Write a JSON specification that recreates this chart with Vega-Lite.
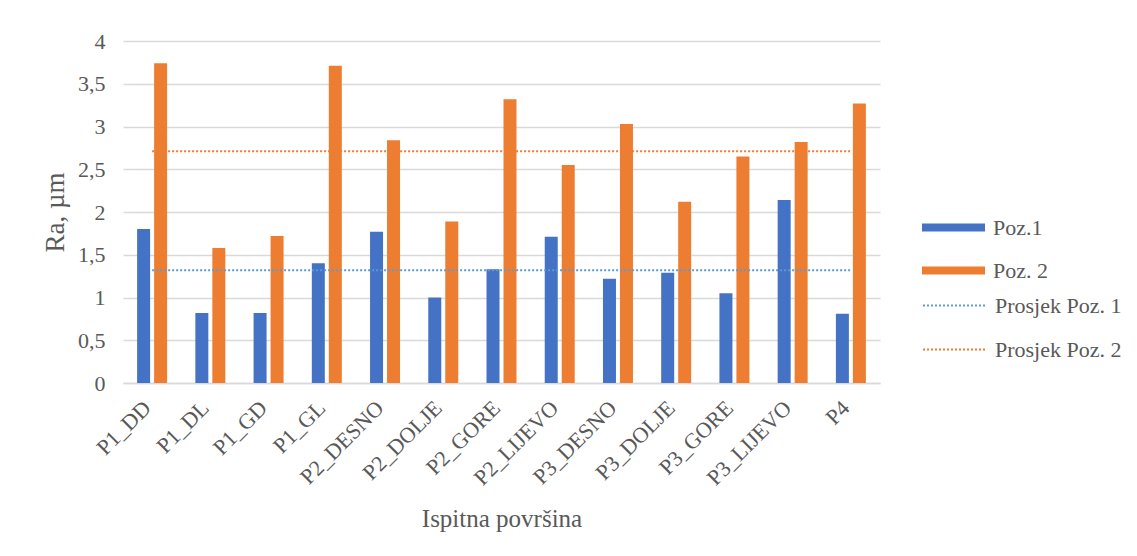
{
  "$schema": "https://vega.github.io/schema/vega-lite/v6.json",
  "width": 757,
  "height": 342,
  "autosize": {"type": "none"},
  "padding": {"left": 123, "top": 41, "right": 257, "bottom": 173},
  "background": "white",
  "config": {
    "view": {"stroke": null},
    "font": "Liberation Serif",
    "axis": {
      "labelFont": "Liberation Serif",
      "titleFont": "Liberation Serif",
      "labelColor": "#595959",
      "titleColor": "#595959",
      "labelFontSize": 22,
      "titleFontSize": 25,
      "titleFontWeight": "normal"
    },
    "legend": {
      "labelFont": "Liberation Serif",
      "labelFontSize": 22,
      "labelColor": "#595959"
    }
  },
  "datasets": {
    "bars": [
      {"cat": "P1_DD", "series": "Poz.1", "value": 1.80},
      {"cat": "P1_DD", "series": "Poz. 2", "value": 3.74},
      {"cat": "P1_DL", "series": "Poz.1", "value": 0.82},
      {"cat": "P1_DL", "series": "Poz. 2", "value": 1.58},
      {"cat": "P1_GD", "series": "Poz.1", "value": 0.82},
      {"cat": "P1_GD", "series": "Poz. 2", "value": 1.72},
      {"cat": "P1_GL", "series": "Poz.1", "value": 1.40},
      {"cat": "P1_GL", "series": "Poz. 2", "value": 3.71},
      {"cat": "P2_DESNO", "series": "Poz.1", "value": 1.77},
      {"cat": "P2_DESNO", "series": "Poz. 2", "value": 2.84},
      {"cat": "P2_DOLJE", "series": "Poz.1", "value": 1.00},
      {"cat": "P2_DOLJE", "series": "Poz. 2", "value": 1.89},
      {"cat": "P2_GORE", "series": "Poz.1", "value": 1.33},
      {"cat": "P2_GORE", "series": "Poz. 2", "value": 3.32},
      {"cat": "P2_LIJEVO", "series": "Poz.1", "value": 1.71},
      {"cat": "P2_LIJEVO", "series": "Poz. 2", "value": 2.55},
      {"cat": "P3_DESNO", "series": "Poz.1", "value": 1.22},
      {"cat": "P3_DESNO", "series": "Poz. 2", "value": 3.03},
      {"cat": "P3_DOLJE", "series": "Poz.1", "value": 1.29},
      {"cat": "P3_DOLJE", "series": "Poz. 2", "value": 2.12},
      {"cat": "P3_GORE", "series": "Poz.1", "value": 1.05},
      {"cat": "P3_GORE", "series": "Poz. 2", "value": 2.65},
      {"cat": "P3_LIJEVO", "series": "Poz.1", "value": 2.14},
      {"cat": "P3_LIJEVO", "series": "Poz. 2", "value": 2.82},
      {"cat": "P4", "series": "Poz.1", "value": 0.81},
      {"cat": "P4", "series": "Poz. 2", "value": 3.27}
    ],
    "avgs": [
      {"cat": "P1_DD", "avg": "Prosjek Poz. 1", "value": 1.32},
      {"cat": "P1_DL", "avg": "Prosjek Poz. 1", "value": 1.32},
      {"cat": "P1_GD", "avg": "Prosjek Poz. 1", "value": 1.32},
      {"cat": "P1_GL", "avg": "Prosjek Poz. 1", "value": 1.32},
      {"cat": "P2_DESNO", "avg": "Prosjek Poz. 1", "value": 1.32},
      {"cat": "P2_DOLJE", "avg": "Prosjek Poz. 1", "value": 1.32},
      {"cat": "P2_GORE", "avg": "Prosjek Poz. 1", "value": 1.32},
      {"cat": "P2_LIJEVO", "avg": "Prosjek Poz. 1", "value": 1.32},
      {"cat": "P3_DESNO", "avg": "Prosjek Poz. 1", "value": 1.32},
      {"cat": "P3_DOLJE", "avg": "Prosjek Poz. 1", "value": 1.32},
      {"cat": "P3_GORE", "avg": "Prosjek Poz. 1", "value": 1.32},
      {"cat": "P3_LIJEVO", "avg": "Prosjek Poz. 1", "value": 1.32},
      {"cat": "P4", "avg": "Prosjek Poz. 1", "value": 1.32},
      {"cat": "P1_DD", "avg": "Prosjek Poz. 2", "value": 2.71},
      {"cat": "P1_DL", "avg": "Prosjek Poz. 2", "value": 2.71},
      {"cat": "P1_GD", "avg": "Prosjek Poz. 2", "value": 2.71},
      {"cat": "P1_GL", "avg": "Prosjek Poz. 2", "value": 2.71},
      {"cat": "P2_DESNO", "avg": "Prosjek Poz. 2", "value": 2.71},
      {"cat": "P2_DOLJE", "avg": "Prosjek Poz. 2", "value": 2.71},
      {"cat": "P2_GORE", "avg": "Prosjek Poz. 2", "value": 2.71},
      {"cat": "P2_LIJEVO", "avg": "Prosjek Poz. 2", "value": 2.71},
      {"cat": "P3_DESNO", "avg": "Prosjek Poz. 2", "value": 2.71},
      {"cat": "P3_DOLJE", "avg": "Prosjek Poz. 2", "value": 2.71},
      {"cat": "P3_GORE", "avg": "Prosjek Poz. 2", "value": 2.71},
      {"cat": "P3_LIJEVO", "avg": "Prosjek Poz. 2", "value": 2.71},
      {"cat": "P4", "avg": "Prosjek Poz. 2", "value": 2.71}
    ]
  },
  "layer": [
    {
      "data": {"name": "bars"},
      "mark": {"type": "bar"},
      "encoding": {
        "x": {
          "field": "cat",
          "type": "nominal",
          "sort": null,
          "title": "Ispitna površina",
          "scale": {"paddingInner": 0.485, "paddingOuter": 0.2425},
          "axis": {
            "labelAngle": -45,
            "ticks": false,
            "domainColor": "#D9D9D9",
            "domainWidth": 1.5,
            "labelPadding": 14,
            "labelOffset": -12,
            "titlePadding": 18
          }
        },
        "xOffset": {
          "field": "series",
          "sort": null,
          "scale": {"paddingInner": 0.235, "paddingOuter": 0}
        },
        "y": {
          "field": "value",
          "type": "quantitative",
          "title": "Ra, µm",
          "scale": {"domain": [0, 4]},
          "axis": {
            "values": [0, 0.5, 1, 1.5, 2, 2.5, 3, 3.5, 4],
            "format": "~g",
            "labelExpr": "replace(datum.label, '.', ',')",
            "domain": false,
            "ticks": false,
            "grid": true,
            "gridColor": "#D9D9D9",
            "gridWidth": 1.5,
            "labelPadding": 18,
            "titleFontSize": 27,
            "titlePadding": 8
          }
        },
        "color": {
          "field": "series",
          "type": "nominal",
          "scale": {"domain": ["Poz.1", "Poz. 2"], "range": ["#4472C4", "#ED7D31"]},
          "legend": {
            "title": null,
            "orient": "none",
            "legendX": 799,
            "legendY": 155,
            "symbolType": "M-1,-0.13H1V0.13H-1Z",
            "symbolSize": 3969,
            "symbolStrokeWidth": 0,
            "labelOffset": 8,
            "rowPadding": 0
          }
        }
      }
    },
    {
      "data": {"name": "avgs"},
      "mark": {"type": "line", "strokeDash": [2, 2], "strokeWidth": 2},
      "encoding": {
        "x": {"field": "cat", "type": "nominal", "sort": null},
        "y": {"field": "value", "type": "quantitative"},
        "stroke": {
          "field": "avg",
          "type": "nominal",
          "scale": {"domain": ["Prosjek Poz. 1", "Prosjek Poz. 2"], "range": ["#5B9BD5", "#ED7D31"]},
          "legend": {
            "title": null,
            "orient": "none",
            "legendX": 799,
            "legendY": 232,
            "symbolType": "M-1,0H1",
            "symbolSize": 3969,
            "symbolStrokeWidth": 2,
            "symbolDash": [2, 2],
            "labelOffset": 8,
            "rowPadding": 0
          }
        }
      }
    }
  ]
}
